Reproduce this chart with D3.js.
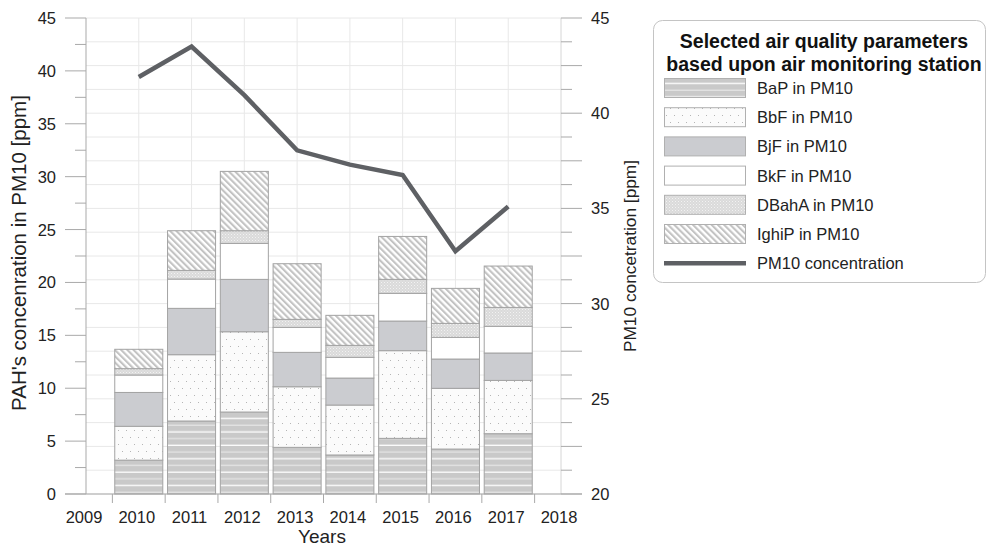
<!DOCTYPE html>
<html>
<head>
<meta charset="utf-8">
<script src="https://cdn.jsdelivr.net/npm/d3@7/dist/d3.min.js"></script>
<style>
  html, body { margin: 0; padding: 0; background: #fff; }
  svg { display: block; font-family: "Liberation Sans", Arial, sans-serif; }
</style>
</head>
<body>
<svg id="chart" width="987" height="546"></svg>
<script>
// Years on the x axis
const years = [2010, 2011, 2012, 2013, 2014, 2015, 2016, 2017];
const xTickYears = [2009, 2010, 2011, 2012, 2013, 2014, 2015, 2016, 2017, 2018];

// PAH concentrations in PM10 [ppm], stacked bottom to top
const bap   = [3.20, 6.90, 7.75, 4.41, 3.69, 5.26, 4.25, 5.70];
const bbf   = [3.20, 6.27, 7.59, 5.73, 4.72, 8.29, 5.74, 5.04];
const bjf   = [3.20, 4.38, 4.95, 3.25, 2.55, 2.80, 2.77, 2.59];
const bkf   = [1.65, 2.77, 3.40, 2.36, 1.96, 2.62, 2.05, 2.52];
const dbaha = [0.60, 0.82, 1.20, 0.76, 1.13, 1.32, 1.32, 1.79];
const ighip = [1.83, 3.75, 5.61, 5.26, 2.84, 4.06, 3.31, 3.91];

// PM10 concentration [ppm], right axis
const pm10 = [41.9, 43.5, 40.95, 38.05, 37.3, 36.75, 32.75, 35.1];

const seriesNames = ["BaP in PM10", "BbF in PM10", "BjF in PM10", "BkF in PM10", "DBahA in PM10", "IghiP in PM10"];
const seriesKeys  = ["bap", "bbf", "bjf", "bkf", "dbaha", "ighip"];
const lineName = "PM10 concentration";
const legendTitle = ["Selected air quality parameters", "based upon air monitoring station"];

const leftTicks = [0, 5, 10, 15, 20, 25, 30, 35, 40, 45];
const rightTicks = [20, 25, 30, 35, 40, 45];

const table = years.map((yr, i) => ({
  year: yr, bap: bap[i], bbf: bbf[i], bjf: bjf[i], bkf: bkf[i], dbaha: dbaha[i], ighip: ighip[i], pm10: pm10[i]
}));

const svg = d3.select("#chart");
const defs = svg.append("defs");

// ---- fill patterns ----
// BaP: grey with thin horizontal light lines
const pBap = defs.append("pattern").attr("id", "p-bap").attr("patternUnits", "userSpaceOnUse")
  .attr("width", 8).attr("height", 13.4);
pBap.append("rect").attr("width", 8).attr("height", 13.4).attr("fill", "#c9c9c9");
pBap.append("rect").attr("y", 2.5).attr("width", 8).attr("height", 1.3).attr("fill", "#ffffff");
pBap.append("rect").attr("y", 9.2).attr("width", 8).attr("height", 1.2).attr("fill", "#e6e6e6");

// BbF: near white with sparse dots
const pBbf = defs.append("pattern").attr("id", "p-bbf").attr("patternUnits", "userSpaceOnUse")
  .attr("width", 8).attr("height", 14);
pBbf.append("rect").attr("width", 8).attr("height", 14).attr("fill", "#fbfbfb");
pBbf.append("rect").attr("x", 2).attr("y", 3).attr("width", 1).attr("height", 1).attr("fill", "#b5b5b5");
pBbf.append("rect").attr("x", 6).attr("y", 10).attr("width", 1).attr("height", 1).attr("fill", "#b5b5b5");

// DBahA: fine stipple
const pDb = defs.append("pattern").attr("id", "p-dbaha").attr("patternUnits", "userSpaceOnUse")
  .attr("width", 3).attr("height", 3);
pDb.append("rect").attr("width", 3).attr("height", 3).attr("fill", "#dadada");
pDb.append("rect").attr("x", 0).attr("y", 0).attr("width", 1).attr("height", 1).attr("fill", "#f2f2f2");
pDb.append("rect").attr("x", 1.5).attr("y", 1.5).attr("width", 1).attr("height", 1).attr("fill", "#ececec");

// IghiP: diagonal hatch running top-left to bottom-right
const pIg = defs.append("pattern").attr("id", "p-ighip").attr("patternUnits", "userSpaceOnUse")
  .attr("width", 4.4).attr("height", 10).attr("patternTransform", "rotate(-45)");
pIg.append("rect").attr("width", 4.4).attr("height", 10).attr("fill", "#ffffff");
pIg.append("rect").attr("width", 2.1).attr("height", 10).attr("fill", "#c3c3c3");

const fills = {
  bap: "url(#p-bap)", bbf: "url(#p-bbf)", bjf: "#cbccd0", bkf: "#ffffff",
  dbaha: "url(#p-dbaha)", ighip: "url(#p-ighip)"
};

// ---- scales ----
const x = d3.scaleLinear().domain([2009, 2018]).range([86, 561]);
const yL = d3.scaleLinear().domain([0, 45]).range([494, 18]);
const yR = d3.scaleLinear().domain([20, 45]).range([494, 18]);
const step = x(2010) - x(2009);
const barW = step * 0.91;

// ---- grid ----
const grid = svg.append("g");
grid.selectAll("line.h").data(d3.range(20, 45.01, 1.25)).join("line")
  .attr("x1", x(2009)).attr("x2", x(2018))
  .attr("y1", d => yR(d)).attr("y2", d => yR(d))
  .attr("stroke", "#e8e8e8").attr("stroke-width", 1);
grid.selectAll("line.v").data(years).join("line")
  .attr("x1", d => x(d)).attr("x2", d => x(d))
  .attr("y1", yL(0)).attr("y2", yL(45))
  .attr("stroke", "#e8e8e8").attr("stroke-width", 1);

// ---- stacked bars ----
const stack = d3.stack().keys(seriesKeys)(table);
const bars = svg.append("g");
stack.forEach(layer => {
  bars.append("g").selectAll("rect").data(layer).join("rect")
    .attr("x", d => x(d.data.year) - barW / 2)
    .attr("width", barW)
    .attr("y", d => yL(d[1]))
    .attr("height", d => yL(d[0]) - yL(d[1]))
    .attr("fill", fills[layer.key])
    .attr("stroke", "#a3a3a3")
    .attr("stroke-width", 1);
});

// ---- axes ----
const axisColor = "#a9a9a9";
const ax = svg.append("g");
// left axis line + ticks
ax.append("line").attr("x1", x(2009)).attr("x2", x(2009)).attr("y1", yL(0)).attr("y2", yL(45))
  .attr("stroke", axisColor);
ax.selectAll("line.lt").data(d3.range(0, 45.01, 2.5)).join("line")
  .attr("x1", d => (d % 5 === 0 ? 65 : 75)).attr("x2", x(2009))
  .attr("y1", d => yL(d)).attr("y2", d => yL(d))
  .attr("stroke", axisColor);
ax.selectAll("text.lt").data(leftTicks).join("text")
  .attr("x", 56).attr("y", d => yL(d) + 6)
  .attr("text-anchor", "end").attr("font-size", 16.5).attr("fill", "#222")
  .text(d => d);
// right axis line + ticks
ax.append("line").attr("x1", x(2018)).attr("x2", x(2018)).attr("y1", yR(20)).attr("y2", yR(45))
  .attr("stroke", "#d6d6d6");
ax.selectAll("line.rt").data(d3.range(20, 45.01, 1.25)).join("line")
  .attr("x1", x(2018)).attr("x2", d => (Math.abs((d / 2.5) - Math.round(d / 2.5)) < 1e-6 ? 582 : 572))
  .attr("y1", d => yR(d)).attr("y2", d => yR(d))
  .attr("stroke", axisColor);
ax.selectAll("text.rt").data(rightTicks).join("text")
  .attr("x", 591).attr("y", d => yR(d) + 6)
  .attr("text-anchor", "start").attr("font-size", 16.5).attr("fill", "#222")
  .text(d => d);
// bottom axis
ax.append("line").attr("x1", 65).attr("x2", 582).attr("y1", yL(0)).attr("y2", yL(0))
  .attr("stroke", axisColor);
ax.selectAll("line.xt").data(d3.range(2009.5, 2018, 1)).join("line")
  .attr("x1", d => x(d)).attr("x2", d => x(d))
  .attr("y1", yL(0)).attr("y2", yL(0) + 9)
  .attr("stroke", axisColor);
ax.selectAll("text.xt").data(xTickYears).join("text")
  .attr("x", d => x(d) - 2).attr("y", 523)
  .attr("text-anchor", "middle").attr("font-size", 16.5).attr("fill", "#222")
  .text(d => d);

// axis titles
svg.append("text").attr("transform", "translate(26,253) rotate(-90)")
  .attr("text-anchor", "middle").attr("font-size", 20.5).attr("fill", "#222")
  .text("PAH's concenration in PM10 [ppm]");
svg.append("text").attr("transform", "translate(636,256) rotate(-90)")
  .attr("text-anchor", "middle").attr("font-size", 17.3).attr("fill", "#222")
  .text("PM10 concetration [ppm]");
svg.append("text").attr("x", 322).attr("y", 543)
  .attr("text-anchor", "middle").attr("font-size", 19).attr("fill", "#222")
  .text("Years");

// ---- PM10 line ----
const line = d3.line().x(d => x(d.year)).y(d => yR(d.pm10));
svg.append("path").datum(table).attr("d", line)
  .attr("fill", "none").attr("stroke", "#5e6064").attr("stroke-width", 4.5)
  .attr("stroke-linejoin", "miter");

// ---- legend ----
const lg = svg.append("g");
lg.append("rect").attr("x", 653.5).attr("y", 20.5).attr("width", 332).attr("height", 262)
  .attr("rx", 9).attr("fill", "#fff").attr("stroke", "#c4c4c4");
lg.selectAll("text.title").data(legendTitle).join("text")
  .attr("x", 824).attr("y", (d, i) => 48 + i * 23)
  .attr("text-anchor", "middle").attr("font-size", 19.5).attr("font-weight", "bold").attr("fill", "#111")
  .text(d => d);
const rowY = i => 88 + i * 29.2;
seriesKeys.forEach((k, i) => {
  lg.append("rect").attr("x", 664.5).attr("y", rowY(i) - 9.5).attr("width", 81).attr("height", 19)
    .attr("fill", fills[k]).attr("stroke", "#b0b0b0");
  lg.append("text").attr("x", 757).attr("y", rowY(i) + 6)
    .attr("font-size", 16.5).attr("fill", "#222").text(seriesNames[i]);
});
lg.append("line").attr("x1", 664).attr("x2", 746).attr("y1", rowY(6)).attr("y2", rowY(6))
  .attr("stroke", "#5e6064").attr("stroke-width", 4.5);
lg.append("text").attr("x", 757).attr("y", rowY(6) + 6)
  .attr("font-size", 16.5).attr("fill", "#222").text(lineName);
</script>
</body>
</html>
